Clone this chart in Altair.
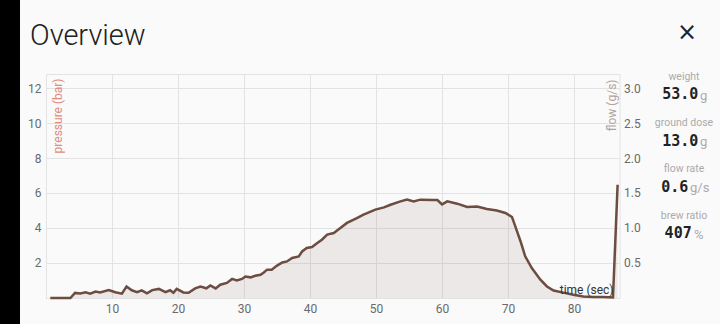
import altair as alt
import pandas as pd

# time (s) and pressure (bar)
times = [0.65, 3.7, 4.4, 5.2, 6.0, 6.7, 7.5, 8.2, 9.5, 10.5, 11.5, 12.2, 13.0, 13.8,
         14.5, 15.3, 16.1, 17.1, 18.1, 18.8, 19.3, 19.8, 20.8, 21.6, 22.6, 23.4, 23.9,
         24.3, 24.9, 25.7, 26.4, 27.4, 28.2, 28.9, 29.7, 30.2, 31.0, 31.7, 32.5, 33.0,
         33.5, 34.2, 35.0, 35.8, 36.5, 37.3, 38.3, 38.8, 39.5, 40.3, 41.1, 41.8, 42.6,
         43.6, 44.2, 45.6, 47.1, 48.1, 49.9, 51.2, 52.2, 53.7, 54.7, 55.7, 56.7, 58.7,
         59.3, 60.0, 60.8, 62.3, 63.8, 65.3, 66.8, 68.3, 69.6, 70.6, 71.1, 71.9, 72.6,
         73.6, 74.9, 75.9, 76.9, 78.2, 79.9, 81.4, 82.9, 84.4, 85.9, 86.6]
pressure = [0.0, 0.0, 0.29, 0.26, 0.33, 0.25, 0.37, 0.32, 0.46, 0.33, 0.25, 0.66, 0.44, 0.33,
            0.44, 0.27, 0.45, 0.52, 0.33, 0.44, 0.3, 0.52, 0.32, 0.3, 0.55, 0.65, 0.6,
            0.55, 0.72, 0.55, 0.76, 0.86, 1.09, 1.0, 1.09, 1.23, 1.18, 1.27, 1.33, 1.46,
            1.62, 1.62, 1.85, 2.03, 2.09, 2.29, 2.38, 2.66, 2.86, 2.91, 3.14, 3.33, 3.62,
            3.71, 3.88, 4.29, 4.57, 4.76, 5.05, 5.18, 5.33, 5.52, 5.62, 5.52, 5.62, 5.6,
            5.6, 5.35, 5.52, 5.39, 5.2, 5.23, 5.09, 5.0, 4.86, 4.63, 4.09, 3.23, 2.38,
            1.71, 1.05, 0.66, 0.43, 0.32, 0.19, 0.09, 0.06, 0.06, 0.03, 6.47]

x_ticks = [10, 20, 30, 40, 50, 60, 70, 80]
p_ticks = [2, 4, 6, 8, 10, 12]
f_ticks = [0.5, 1.0, 1.5, 2.0, 2.5, 3.0]

df = pd.DataFrame({"t": times, "p": pressure})
one = pd.DataFrame({"a": [0]})

BROWN = "#6d4c41"
LABEL_FONT = "Roboto"

x_enc = alt.X("t:Q", scale=alt.Scale(domain=[0, 86.9], nice=False, zero=True),
              axis=alt.Axis(values=x_ticks, title=None, ticks=False, domain=False,
                            labelPadding=6, gridColor="#e3e3e3"))
y_enc = alt.Y("p:Q", scale=alt.Scale(domain=[0, 12.8], nice=False),
              axis=alt.Axis(values=p_ticks, title=None, ticks=False, domain=False,
                            labelPadding=5, gridColor="#e3e3e3"))

area = alt.Chart(df).mark_area(color=BROWN, opacity=0.1).encode(x=x_enc, y=y_enc)
line = alt.Chart(df).mark_line(color=BROWN, strokeWidth=2.5).encode(x=x_enc, y=y_enc)
main = alt.layer(area, line)

right = alt.Chart(df).transform_calculate(f="datum.p / 4").mark_line(opacity=0).encode(
    x=alt.X("t:Q", scale=alt.Scale(domain=[0, 86.9], nice=False)),
    y=alt.Y("f:Q", scale=alt.Scale(domain=[0, 3.2], nice=False),
            axis=alt.Axis(orient="right", values=f_ticks, format=".1f", title=None,
                          grid=False, ticks=False, domain=False, labelPadding=4)),
)

plot = alt.layer(main, right).resolve_scale(y="independent")


def txt(s, x, y, **kw):
    return alt.Chart(one).mark_text(text=s, **kw).encode(x=alt.value(x), y=alt.value(y))


mono = dict(font="DejaVu Sans Mono", fontWeight="bold", fontSize=15, color="#222222",
            align="right", baseline="middle")
unit = dict(font=LABEL_FONT, fontSize=13, color="#aaaaaa", align="left", baseline="middle")
small = dict(font=LABEL_FONT, fontSize=10.5, color="#aaaaaa", align="center", baseline="middle")

strip = alt.Chart(one).mark_rect(color="black").encode(
    x=alt.value(-46), x2=alt.value(-26), y=alt.value(-74), y2=alt.value(250))

texts = [
    txt("Overview", -16, -29, font=LABEL_FONT, fontWeight=300, fontSize=29,
        color="#212121", align="left", baseline="alphabetic"),
    txt("×", 641, -41, font="DejaVu Sans", fontWeight="normal", fontSize=24, color="#222222",
        align="center", baseline="middle"),
    txt("pressure (bar)", 12, 4.5, font=LABEL_FONT, fontSize=12, color="#e08a7a",
        angle=270, align="right", baseline="middle"),
    txt("flow (g/s)", 565.7, 5.5, font=LABEL_FONT, fontSize=12, color="#b3a29b",
        angle=270, align="right", baseline="middle"),
    txt("time (sec)", 567.5, 216, font=LABEL_FONT, fontSize=12, color="#333333",
        align="right", baseline="middle"),
    txt("weight", 638, 2.7, **small),
    txt("53.0", 652.3, 20, **mono),
    txt("g", 654, 21.5, **unit),
    txt("ground dose", 638, 49.3, **small),
    txt("13.0", 652.3, 66.7, **mono),
    txt("g", 654, 68.2, **unit),
    txt("flow rate", 638, 95.3, **small),
    txt("0.6", 642.3, 112.7, **mono),
    txt("g/s", 644, 114.2, **unit),
    txt("brew ratio", 638, 141.7, **small),
    txt("407", 645.7, 159.3, **mono),
    txt("%", 648, 160.8, **unit),
]

chart = alt.layer(strip, plot, *texts).properties(
    width=573.6, height=224,
    padding={"left": 46, "top": 74, "right": 100, "bottom": 26},
    autosize=alt.AutoSizeParams(type="none"),
    background="#fafafa",
).configure_view(stroke="#e3e3e3", fill="#fafafa").configure_axis(
    labelFont=LABEL_FONT, labelFontSize=12, labelColor="#6a6a6a", labelFontWeight="normal",
)

chart.save("out.html", embed_options={"renderer": "svg", "actions": False})
